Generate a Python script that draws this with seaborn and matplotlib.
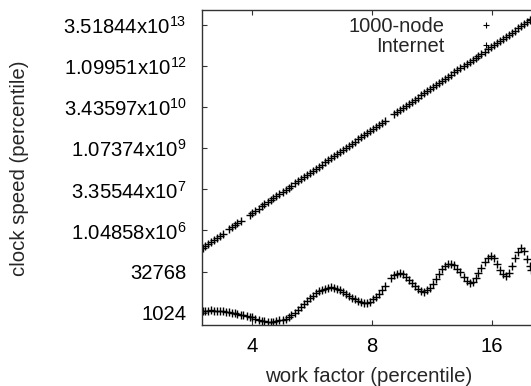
import numpy as np
import pandas as pd
import matplotlib
matplotlib.use("Agg")
import matplotlib.pyplot as plt
import seaborn as sns
from matplotlib.lines import Line2D
from matplotlib.ticker import NullLocator

# ---------------- data ----------------
# work factor (percentile) and log2 of clock speed (percentile)
node_work_factor = [
    3.00, 3.05, 3.10, 3.15, 3.20, 3.26, 3.31, 3.37, 3.49,
    3.55, 3.61, 3.67, 3.74, 3.94, 4.00, 4.07, 4.15,
    4.22, 4.29, 4.37, 4.45, 4.52, 4.60, 4.68, 4.77, 4.85, 4.94,
    5.02, 5.11, 5.20, 5.29, 5.39, 5.48, 5.58, 5.68, 5.78, 5.88,
    5.98, 6.09, 6.19, 6.30, 6.41, 6.53, 6.64, 6.76, 6.88, 7.00,
    7.12, 7.25, 7.37, 7.50, 7.64, 7.77, 7.91, 8.05, 8.19, 8.33,
    8.48, 8.63, 9.09, 9.25, 9.42, 9.58, 9.75, 9.92,
    10.10, 10.28, 10.46, 10.64, 10.83, 11.02, 11.21, 11.41, 11.61, 11.82,
    12.02, 12.24, 12.45, 12.67, 12.89, 13.12, 13.35, 13.59, 13.83, 14.07,
    14.32, 14.57, 14.82, 15.08, 15.35, 15.62, 15.89, 16.17, 16.46, 16.75,
    17.04, 17.34, 17.65, 17.96, 18.27, 18.59, 18.92, 19.25, 19.59, 19.94, 20.10,
]
node_log2_speed = [
    17.83, 18.08, 18.34, 18.59, 18.85, 19.10, 19.36, 19.61, 20.12,
    20.38, 20.63, 20.89, 21.14, 21.91, 22.16, 22.41, 22.67,
    22.92, 23.18, 23.43, 23.69, 23.94, 24.20, 24.45, 24.71, 24.96, 25.22,
    25.47, 25.73, 25.98, 26.24, 26.49, 26.74, 27.00, 27.25, 27.51, 27.76,
    28.02, 28.27, 28.53, 28.78, 29.04, 29.29, 29.55, 29.80, 30.06, 30.31,
    30.57, 30.82, 31.07, 31.33, 31.58, 31.84, 32.09, 32.35, 32.60, 32.86,
    33.11, 33.37, 34.13, 34.39, 34.64, 34.90, 35.15, 35.40,
    35.66, 35.91, 36.17, 36.42, 36.68, 36.93, 37.19, 37.44, 37.70, 37.95,
    38.21, 38.46, 38.72, 38.97, 39.23, 39.48, 39.73, 39.99, 40.24, 40.50,
    40.75, 41.01, 41.26, 41.52, 41.77, 42.03, 42.28, 42.54, 42.79, 43.05,
    43.30, 43.56, 43.81, 44.06, 44.32, 44.57, 44.83, 45.08, 45.34, 45.59, 45.69,
]

internet_work_factor = [
    3.00, 3.05, 3.10, 3.15, 3.20, 3.26, 3.31, 3.37, 3.43, 3.49,
    3.55, 3.61, 3.67, 3.74, 3.80, 3.87, 3.94, 4.00, 4.07, 4.15,
    4.22, 4.29, 4.37, 4.45, 4.52, 4.60, 4.68, 4.77, 4.85, 4.94,
    5.02, 5.11, 5.20, 5.29, 5.39, 5.48, 5.58, 5.68, 5.78, 5.88,
    5.98, 6.09, 6.19, 6.30, 6.41, 6.53, 6.64, 6.76, 6.88, 7.00,
    7.12, 7.25, 7.37, 7.50, 7.64, 7.77, 7.91, 8.05, 8.19, 8.33,
    8.48, 8.63, 8.94, 9.09, 9.25, 9.42, 9.58, 9.75, 9.92,
    10.10, 10.28, 10.46, 10.64, 10.83, 11.02, 11.21, 11.41, 11.61, 11.82,
    12.02, 12.24, 12.45, 12.67, 12.89, 13.12, 13.35, 13.59, 13.83, 14.07,
    14.32, 14.57, 14.82, 15.08, 15.35, 15.62, 15.89, 16.17, 16.46, 16.75,
    17.04, 17.34, 17.65, 17.96, 18.27, 18.59, 18.92, 19.25, 19.59, 19.94, 20.10,
]
internet_log2_speed = [
    10.21, 10.23, 10.26, 10.27, 10.26, 10.23, 10.21, 10.19, 10.13, 10.07,
    10.01, 9.93, 9.84, 9.76, 9.67, 9.60, 9.51, 9.43, 9.28, 9.14,
    9.04, 8.97, 8.92, 8.89, 8.92, 8.98, 9.05, 9.14, 9.26, 9.43,
    9.72, 10.01, 10.32, 10.67, 11.05, 11.41, 11.75, 12.07, 12.36, 12.58,
    12.76, 12.91, 13.00, 13.07, 13.05, 12.93, 12.73, 12.52, 12.29, 12.04,
    11.81, 11.61, 11.42, 11.27, 11.16, 11.16, 11.33, 11.61, 11.95, 12.32,
    12.76, 13.21, 14.22, 14.53, 14.73, 14.79, 14.67, 14.37, 13.98,
    13.61, 13.25, 12.91, 12.64, 12.54, 12.70, 13.03, 13.46, 14.04, 14.67,
    15.26, 15.71, 15.97, 15.97, 15.74, 15.34, 14.89, 14.37, 13.86, 13.61,
    13.73, 14.16, 14.77, 15.44, 16.11, 16.65, 16.90, 16.59, 15.92, 15.19,
    14.65, 14.46, 14.83, 15.68, 16.59, 17.38, 17.81, 17.45, 16.53, 15.68, 15.19,
]

series_labels = ["1000-node", "Internet"]
x_label = "work factor (percentile)"
y_label = "clock speed (percentile)"
x_ticks = [4, 8, 16]
x_tick_labels = ["4", "8", "16"]
y_tick_exponents = [10, 15, 20, 25, 30, 35, 40, 45]
y_tick_labels = [
    "1024", "32768",
    r"1.04858x10$^{6}$", r"3.35544x10$^{7}$", r"1.07374x10$^{9}$",
    r"3.43597x10$^{10}$", r"1.09951x10$^{12}$", r"3.51844x10$^{13}$",
]

# ---------------- style ----------------
sns.set_style("ticks")
plt.rcParams["font.family"] = ["Liberation Sans", "DejaVu Sans"]
plt.rcParams["mathtext.default"] = "regular"

node_df = pd.DataFrame({
    "work factor": node_work_factor,
    "clock speed": np.power(2.0, node_log2_speed),
    "series": series_labels[0],
})
internet_df = pd.DataFrame({
    "work factor": internet_work_factor,
    "clock speed": np.power(2.0, internet_log2_speed),
    "series": series_labels[1],
})

fig = plt.figure(figsize=(5.31, 3.86), dpi=100)
ax = fig.add_axes([202 / 531, 61 / 386, 331 / 531, 315 / 386])

for d in (node_df, internet_df):
    sns.scatterplot(data=d, x="work factor", y="clock speed", marker="+",
                    color="black", s=28, linewidth=1.0, ax=ax, legend=False)

ax.set_xscale("log", base=2)
ax.set_yscale("log", base=2)
ax.set_xlim(2.99, 20.32)
ax.set_ylim(2 ** 8.50, 2 ** 46.82)

ax.set_xticks(x_ticks)
ax.set_xticklabels(x_tick_labels)
ax.set_yticks([2.0 ** e for e in y_tick_exponents])
ax.set_yticklabels(y_tick_labels)
ax.xaxis.set_minor_locator(NullLocator())
ax.yaxis.set_minor_locator(NullLocator())

ax.tick_params(axis="both", direction="in", top=True, right=False,
               length=3.5, width=0.8, color="#333333", labelsize=14.6,
               labelcolor="black")
ax.tick_params(axis="y", pad=11)
ax.tick_params(axis="x", pad=9)
for sp in ax.spines.values():
    sp.set_linewidth(1.0)
    sp.set_color("#333333")
ax.spines["right"].set_visible(False)

ax.set_xlabel("")
ax.set_ylabel("")
fig.text(369 / 531, (386 - 382.5) / 386, x_label, ha="center", va="baseline",
         fontsize=14.7)
fig.text(20 / 531, (386 - 168) / 386, y_label, ha="center", va="center",
         rotation=90, fontsize=14.7)

handles = [Line2D([], [], marker="+", color="black", linestyle="none",
                  markersize=5, markeredgewidth=0.8) for _ in series_labels]
ax.legend(handles, series_labels, loc="upper right",
          bbox_to_anchor=((512 - 202) / 331, 1 - 7 / 315),
          frameon=False, markerfirst=False, fontsize=14.5,
          handlelength=2.6, handletextpad=0.75, borderpad=0,
          borderaxespad=0, labelspacing=0.05)

fig.savefig("out.png", dpi=100)
